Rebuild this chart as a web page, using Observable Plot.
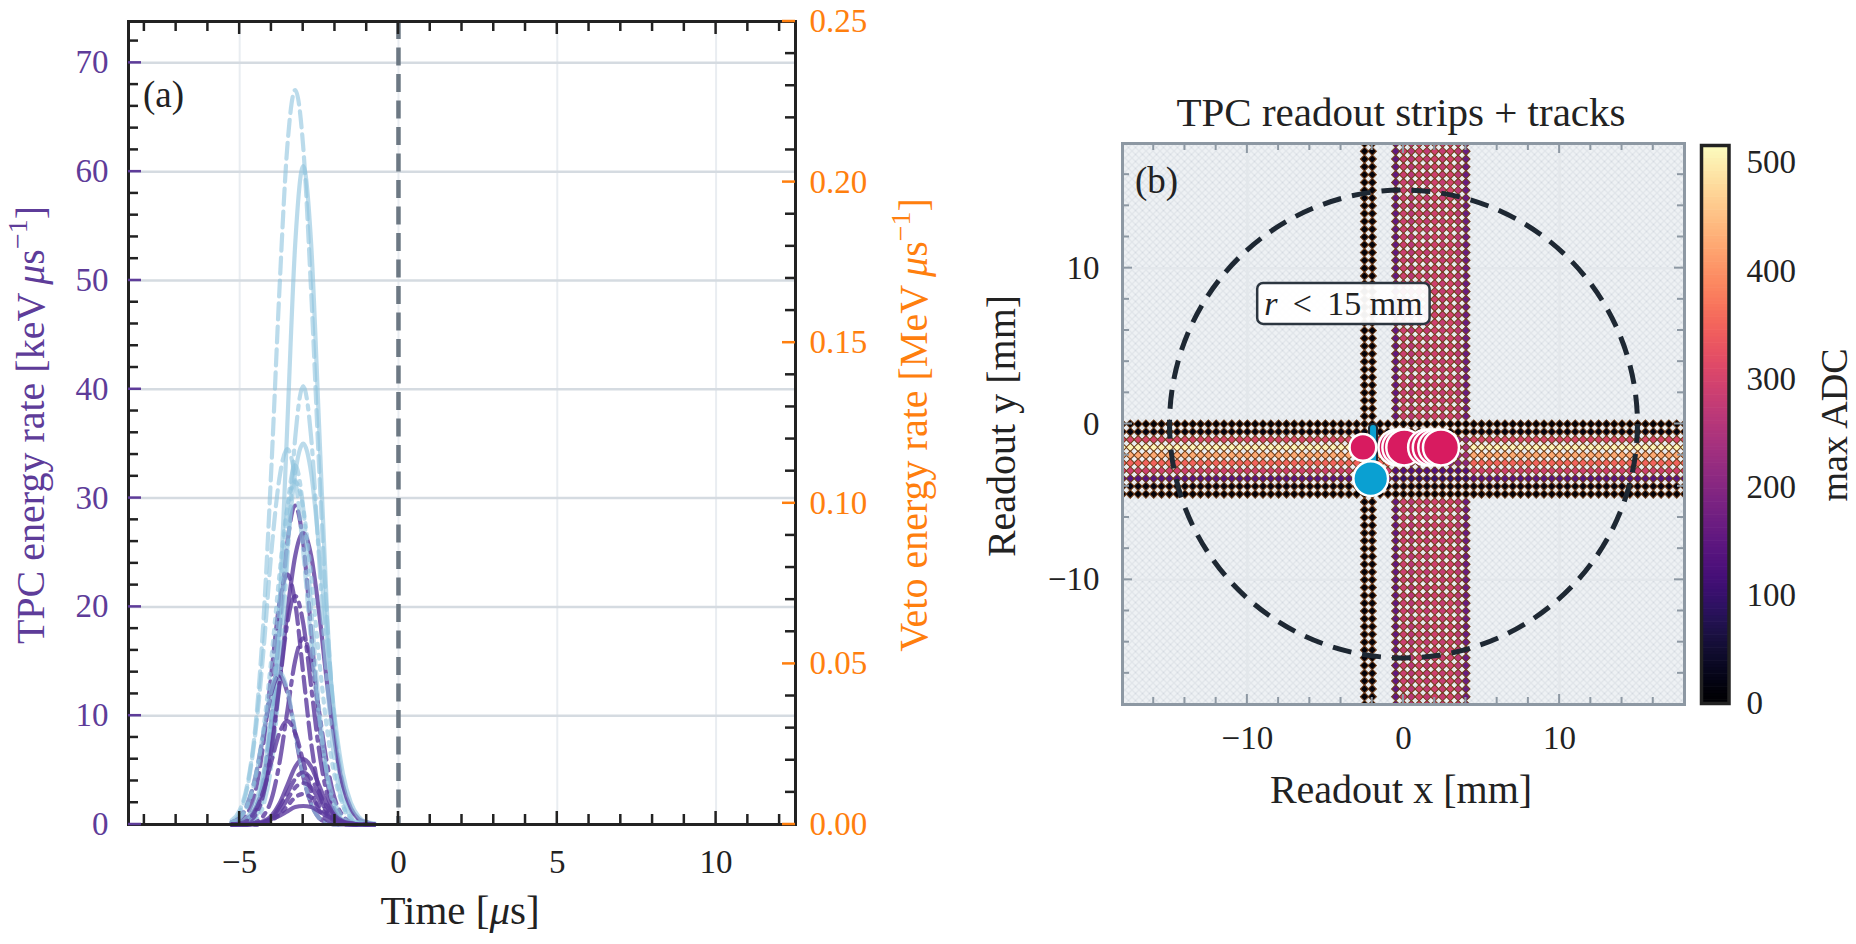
<!DOCTYPE html>
<html><head><meta charset="utf-8">
<script src="https://cdn.jsdelivr.net/npm/d3@7"></script>
<script src="https://cdn.jsdelivr.net/npm/@observablehq/plot@0.6"></script>
<style>
html,body{margin:0;padding:0;background:#fff;}
#fig{position:relative;width:1856px;height:944px;overflow:hidden;}
#fig svg{position:absolute;top:0;}
</style></head><body><div id="fig"></div>
<script>
// ================= Panel (a): pulse shapes =================
const times = [-5.25,-5.0,-4.75,-4.5,-4.25,-4.0,-3.75,-3.5,-3.25,-3.0,-2.75,-2.5,-2.25,-2.0,-1.75,-1.5,-1.25,-1.0,-0.75];
const L1 = [0.4,1.3,3.8,9.1,18.8,32.9,49.0,62.3,67.5,62.3,49.0,32.9,18.8,9.1,3.8,1.3,0.4,0.1,0];
const L2 = [0,0,0.1,0.7,2.7,8.2,19.6,36.7,53.4,60.5,53.4,36.7,19.6,8.2,2.7,0.7,0.1,0,0];
const L3 = [0,0,0.1,0.4,1.8,5.5,13.1,24.4,35.6,40.3,35.6,24.4,13.1,5.5,1.8,0.4,0.1,0,0];
const L4 = [0.1,0.2,0.7,2.0,4.7,9.7,17.0,25.4,32.3,35.0,32.3,25.4,17.0,9.7,4.7,2.0,0.7,0.2,0.1];
const L5 = [0.2,1.0,3.5,8.5,16.0,25.1,31.8,34.5,31.8,25.1,16.8,9.6,4.7,1.9,0.7,0.2,0.1,0,0];
const L6 = [0,0.1,0.4,1.4,4.5,10.7,20.0,29.1,33.0,29.1,20.0,10.7,4.5,1.4,0.4,0.1,0,0,0];
const L7 = [0.2,0.6,1.8,4.3,8.8,15.3,22.9,29.1,31.5,29.1,22.9,15.3,8.8,4.3,1.8,0.6,0.2,0.1,0];
const L8 = [0.2,0.6,1.9,4.5,8.5,12.4,14.0,12.4,8.5,4.5,1.9,0.6,0.2,0,0,0,0,0,0];
const P1 = [0,0.1,0.3,1.3,4.0,9.5,17.8,25.9,29.3,25.9,17.8,9.5,4.0,1.3,0.3,0.1,0,0,0];
const P2 = [0,0.2,0.5,1.5,3.6,7.5,13.0,19.5,24.7,26.8,24.7,19.5,13.0,7.5,3.6,1.5,0.5,0.2,0];
const P3 = [0.1,0.3,1.0,3.1,7.5,13.9,20.3,23.0,20.3,13.9,7.5,3.1,1.0,0.3,0.1,0,0,0,0];
const P4 = [0,0,0,0.2,0.8,2.3,5.6,10.4,15.1,17.1,15.1,10.4,5.6,2.3,0.8,0.2,0,0,0];
const P5 = [0,0,0.2,0.9,2.8,6.8,12.7,18.5,21.0,18.5,12.7,6.8,2.8,0.9,0.2,0,0,0,0];
const P6 = [0.2,0.6,1.9,4.4,8.3,12.1,13.7,12.1,8.3,4.4,1.9,0.6,0.2,0,0,0,0,0,0];
const P7 = [0,0,0,0.1,0.3,0.8,1.9,3.6,5.3,6.0,5.3,3.6,1.9,0.8,0.3,0.1,0,0,0];
const P8 = [0,0,0,0,0.2,0.6,1.6,2.9,4.2,4.8,4.2,2.9,1.6,0.6,0.2,0,0,0,0];
const P9 = [0,0,0,0,0.2,0.5,1.2,2.3,3.4,3.8,3.4,2.3,1.2,0.5,0.2,0,0,0,0];
const P10 = [0,0,0,0,0.1,0.4,0.9,1.7,2.5,2.8,2.5,1.7,0.9,0.4,0.1,0,0,0,0];
const P11 = [0,0,0,0.1,0.2,0.5,0.8,1.2,1.6,1.7,1.6,1.2,0.8,0.5,0.2,0.1,0,0,0];
const P12 = [0,0.1,0.4,1.3,3.1,5.8,8.4,9.5,8.4,5.8,3.1,1.3,0.4,0.1,0,0,0,0,0];

const seriesValues = [L1,P1,L2,P2,L3,P3,L4,P4,L5,P5,L6,P6,L7,P7,L8,P8,P9,P10,P11,P12];
const seriesGroup  = ["lb","pu","lb","pu","lb","pu","lb","pu","lb","pu","lb","pu","lb","pu","lb","pu","pu","pu","pu","pu"];
const seriesDash   = ["dashed","dashed","solid","solid","dashdot","dashed","solid","dashdot","dashed","dashdot","dashdot","dashed","dotted","solid","dashed","dashed","dashdot","dotted","solid","dashed"];

const yMajorA = [0,10,20,30,40,50,60,70];
const xMajorA = [-5,0,5,10];
const vetoMajor = [0,0.05,0.10,0.15,0.20,0.25];

// ================= Panel (b): strips + hits =================
const hStripRows = [0,-0.5,-1,-1.5,-2,-2.5,-3,-3.5,-4,-4.5];
const hStripADC  = [8,18,300,505,425,345,285,140,18,8];
const hCrossADC  = [8,14,210,240,230,200,130,95,20,8];
const vWideCols  = [-0.5,0,0.5,1,1.5,2,2.5,3,3.5,4];
const vWideADC   = [150,285,260,295,270,290,275,295,265,160];
const vNarrowCols = [-2.5,-2.0];
const vNarrowADC  = [10,12];
const pinkHitX = [-2.6,-0.45,-0.2,0.05,1.45,1.75,2.1,2.4];
const pinkHitY = [-1.5,-1.5,-1.5,-1.5,-1.5,-1.5,-1.5,-1.5];
const pinkHitE = [0.55,1,1,1,1,1,1,1];
const blueHitX = [-2.1], blueHitY = [-3.5], blueHitE = [0.93];
const blueTrackX = [-1.95,-1.95], blueTrackY = [-0.25,-3.3];
const fiducialR = 15;
const cbarTicks = [0,100,200,300,400,500];
const adcMax = 516;
const bTicksMajor = [-10,0,10];

// ================= styling =================
const FONT = '"Liberation Serif","DejaVu Serif",serif';
const purple = "#5e3c99", orange = "#ff7f0e", ink = "#222", bGray = "#8d98a3";
const lbColor = "#8ec3de", puColor = "#5b3a9e";
const dashMap = {solid: null, dashed: "16,7", dashdot: "27,7,4,7", dotted: "4,7"};
const fmt = d => d < 0 ? "\u2212" + Math.abs(d) : String(d);

const fig = document.getElementById("fig");

// inward tick marks drawn from a plot's own scales
function drawTicks(plot, side, values, len, stroke, width) {
  const sx = plot.scale("x"), sy = plot.scale("y");
  const L = sx.apply(sx.domain[0]), R = sx.apply(sx.domain[1]);
  const B = sy.apply(sy.domain[0]), T = sy.apply(sy.domain[1]);
  const g = d3.select(plot).append("g").attr("stroke", stroke).attr("stroke-width", width);
  for (const v of values) {
    const l = g.append("line");
    if (side === "left" || side === "right") {
      const y = sy.apply(v);
      const x0 = side === "left" ? L : R, x1 = side === "left" ? L + len : R - len;
      l.attr("x1", x0).attr("x2", x1).attr("y1", y).attr("y2", y);
    } else {
      const x = sx.apply(v);
      const y0 = side === "bottom" ? B : T, y1 = side === "bottom" ? B - len : T + len;
      l.attr("x1", x).attr("x2", x).attr("y1", y0).attr("y2", y1);
    }
  }
}

// ---------- Panel (a) ----------
const xDomA = [-8.5, 12.5], yDomA = [0, 73.8];
const mA = {l:128, r:165, t:21, b:120}, wA = 960, hA = 944;
const vetoK = yDomA[1] / 0.25;
const yMinorA = d3.range(2, 73, 2).filter(v => v % 10 !== 0);
const xMinorA = d3.range(-8, 13, 1).filter(v => v % 5 !== 0);
const vetoMinor = d3.range(1, 25).filter(i => i % 5 !== 0).map(i => i / 100);

const curveMarks = seriesValues.map((vals, i) => Plot.line(
  times.map((t, j) => ({t, v: vals[j]})),
  {x: "t", y: "v", curve: "monotone-x",
   stroke: seriesGroup[i] === "lb" ? lbColor : puColor,
   strokeOpacity: seriesGroup[i] === "lb" ? 0.6 : 0.8,
   strokeWidth: 4.2,
   strokeDasharray: dashMap[seriesDash[i]] ?? undefined}
));

const plotA = Plot.plot({
  width: wA, height: hA,
  marginLeft: mA.l, marginRight: mA.r, marginTop: mA.t, marginBottom: mA.b,
  x: {domain: xDomA, label: null},
  y: {domain: yDomA, label: null},
  style: {fontFamily: FONT, fontSize: "33px", background: "transparent", overflow: "visible"},
  marks: [
    Plot.ruleX(xMajorA, {stroke: "#e9edf1", strokeWidth: 2}),
    Plot.ruleY(yMajorA.filter(v => v > 0), {stroke: "#d5dbe1", strokeWidth: 2.5}),
    ...curveMarks,
    Plot.ruleX([0], {stroke: "#6c7883", strokeWidth: 4.5, strokeDasharray: "18,8.5"}),
    Plot.axisY({ticks: yMajorA, anchor: "left", tickSize: 0, tickPadding: 20, fill: purple, stroke: "none", label: null, tickFormat: fmt}),
    Plot.axisY({ticks: vetoMajor.map(v => v * vetoK), anchor: "right", tickSize: 0, tickPadding: 14, fill: orange, stroke: "none", label: null, tickFormat: d => (d / vetoK).toFixed(2)}),
    Plot.axisX({ticks: xMajorA, anchor: "bottom", tickSize: 0, tickPadding: 25, fill: ink, stroke: "none", label: null, tickFormat: fmt}),
    Plot.frame({stroke: ink, strokeWidth: 3})
  ]
});
plotA.style.left = "0px";
fig.appendChild(plotA);
drawTicks(plotA, "left", yMinorA, 10, ink, 2.5);
drawTicks(plotA, "left", yMajorA, 13, purple, 2.5);
drawTicks(plotA, "right", vetoMinor.map(v => v * vetoK), 10, ink, 2.5);
drawTicks(plotA, "right", vetoMajor.map(v => v * vetoK), 13, orange, 2.5);
drawTicks(plotA, "top", xMinorA, 10, ink, 2.5);
drawTicks(plotA, "top", xMajorA, 13, ink, 2.5);
drawTicks(plotA, "bottom", xMinorA, 10, ink, 2.5);
drawTicks(plotA, "bottom", xMajorA, 13, ink, 2.5);

// ---------- Panel (b) ----------
const domB = [-18, 18];
const mB = {l:162, r:172, t:143, b:240}, wB = 896, hB = 944;
const kxb = (wB - mB.l - mB.r) / (domB[1] - domB[0]);
const kyb = (hB - mB.t - mB.b) / (domB[1] - domB[0]);
const padColsH = d3.range(-18, 18.01, 0.5);
const padRowsV = d3.range(-18, 18.01, 0.5).filter(y => y > 0.01 || y < -4.51);
const wideLo = vWideCols[0] - 0.01, wideHi = vWideCols[vWideCols.length - 1] + 0.01;
const hPads = [];
for (const x of padColsH) hStripRows.forEach((y, i) => hPads.push({x, y, adc: (x >= wideLo && x <= wideHi) ? hCrossADC[i] : hStripADC[i]}));
const vPads = [];
for (const y of padRowsV) {
  vNarrowCols.forEach((x, i) => vPads.push({x, y, adc: vNarrowADC[i]}));
  vWideCols.forEach((x, i) => vPads.push({x, y, adc: vWideADC[i]}));
}
const pinkHits = pinkHitX.map((x, i) => ({x, y: pinkHitY[i], e: pinkHitE[i]}));
const blueHits = blueHitX.map((x, i) => ({x, y: blueHitY[i], e: blueHitE[i]}));
const blueTrack = blueTrackX.map((x, i) => ({x, y: blueTrackY[i]}));
const bMinor = d3.range(-16, 17, 2).filter(v => v % 10 !== 0);
const padOpts = {x: "x", y: "y", fill: "adc", symbol: "square", rotate: 45, r: 3.3, stroke: "#6e3b17", strokeWidth: 1, clip: true};

const plotB = Plot.plot({
  width: wB, height: hB,
  marginLeft: mB.l, marginRight: mB.r, marginTop: mB.t, marginBottom: mB.b,
  x: {domain: domB, label: null},
  y: {domain: domB, label: null},
  color: {type: "linear", scheme: "magma", domain: [0, adcMax]},
  r: {type: "sqrt", domain: [0, 1], range: [0, 18]},
  style: {fontFamily: FONT, fontSize: "33px", background: "transparent", overflow: "visible"},
  marks: [
    Plot.frame({fill: "#eef1f4"}),
    Plot.ruleX(bTicksMajor, {stroke: "#e3e7eb", strokeWidth: 2.5}),
    Plot.ruleY(bTicksMajor, {stroke: "#e3e7eb", strokeWidth: 2.5}),
    Plot.dot(hPads, padOpts),
    Plot.dot(vPads, padOpts),
    Plot.dot([{x: 0, y: 0}], {x: "x", y: "y", r: fiducialR * (kxb + kyb) / 2, fill: "none", stroke: "#1e2833", strokeWidth: 5, strokeDasharray: "19,11"}),
    Plot.line(blueTrack, {x: "x", y: "y", stroke: "#1e2833", strokeWidth: 10, strokeLinecap: "round"}),
    Plot.line(blueTrack, {x: "x", y: "y", stroke: "#0aa0d2", strokeWidth: 6, strokeLinecap: "round"}),
    Plot.dot(pinkHits, {x: "x", y: "y", r: "e", fill: "#d81b60", stroke: "white", strokeWidth: 2.5}),
    Plot.dot(blueHits, {x: "x", y: "y", r: "e", fill: "#0aa0d2", stroke: "white", strokeWidth: 2.5}),
    Plot.text(["r < 15 mm"], {x: () => -3.85, y: () => 7.7, text: d => d, fontSize: 34, fill: ink}),
    Plot.axisX({ticks: bTicksMajor, anchor: "bottom", tickSize: 0, tickPadding: 21, fill: ink, stroke: "none", label: null, tickFormat: fmt}),
    Plot.axisY({ticks: bTicksMajor, anchor: "left", tickSize: 0, tickPadding: 23, fill: ink, stroke: "none", label: null, tickFormat: fmt}),
    Plot.frame({stroke: bGray, strokeWidth: 3})
  ]
});
plotB.style.left = "960px";
fig.appendChild(plotB);
for (const side of ["top", "bottom", "left", "right"]) {
  drawTicks(plotB, side, bMinor, 7, bGray, 2);
  drawTicks(plotB, side, bTicksMajor, 10, bGray, 2);
}

// ---------- Colorbar ----------
const cbarLevels = d3.range(0, adcMax, 3);
const plotC = Plot.plot({
  width: 166, height: 944,
  marginLeft: 11, marginRight: 127.5, marginTop: 145, marginBottom: 241,
  x: {domain: [0, 1], axis: null},
  y: {domain: [0, adcMax], label: null},
  color: {type: "linear", scheme: "magma", domain: [0, adcMax]},
  style: {fontFamily: FONT, fontSize: "33px", background: "transparent", overflow: "visible"},
  marks: [
    Plot.rect(cbarLevels, {x1: 0, x2: 1, y1: d => d, y2: d => Math.min(d + 3.6, adcMax), fill: d => d}),
    Plot.axisY({ticks: cbarTicks, anchor: "right", tickSize: 0, tickPadding: 17.5, fill: ink, stroke: "none", label: null}),
    Plot.frame({stroke: ink, strokeWidth: 3.5})
  ]
});
plotC.style.left = "1690px";
fig.appendChild(plotC);

// ---------- post-processing: hatch background, label box ----------
(function () {
  const svg = d3.select(plotB);
  const defs = svg.insert("defs", ":first-child");
  const pat = defs.append("pattern").attr("id", "hatchB").attr("patternUnits", "userSpaceOnUse").attr("width", 7).attr("height", 7);
  pat.append("rect").attr("width", 7).attr("height", 7).attr("fill", "#eef1f4");
  pat.append("path").attr("d", "M0,0L7,7M7,0L0,7M-1,6L1,8M6,-1L8,1").attr("stroke", "#d2d8df").attr("stroke-width", 0.9);
  const frames = plotB.querySelectorAll('[aria-label="frame"]');
  if (frames.length) {
    const f = frames[0];
    const r = f.tagName.toLowerCase() === "rect" ? f : f.querySelector("rect");
    if (r) r.setAttribute("fill", "url(#hatchB)");
  }
  const tnode = plotB.querySelector('g[aria-label="text"] text');
  if (tnode) {
    tnode.textContent = "";
    const ns = "http://www.w3.org/2000/svg";
    const a = document.createElementNS(ns, "tspan"); a.setAttribute("font-style", "italic"); a.textContent = "r";
    const b = document.createElementNS(ns, "tspan"); b.textContent = "\u2009 < \u200915 mm";
    tnode.appendChild(a); tnode.appendChild(b);
    const bb = tnode.getBBox();
    const rect = document.createElementNS(ns, "rect");
    rect.setAttribute("x", bb.x - 7); rect.setAttribute("y", bb.y - 2);
    rect.setAttribute("width", bb.width + 14); rect.setAttribute("height", bb.height + 4);
    rect.setAttribute("rx", 6); rect.setAttribute("fill", "white"); rect.setAttribute("fill-opacity", 0.95);
    rect.setAttribute("stroke", "#2c3640"); rect.setAttribute("stroke-width", 2.5);
    const tr = tnode.getAttribute("transform");
    if (tr) rect.setAttribute("transform", tr);
    tnode.parentNode.insertBefore(rect, tnode);
  }
})();

// ---------- titles and axis labels ----------
const over = d3.select(fig).append("svg").attr("width", 1856).attr("height", 944).style("left", "0px").style("pointer-events", "none");
function addText({x, y, rotate = 0, anchor = "middle", size, fill = ink, parts}) {
  const g = over.append("g").attr("transform", `translate(${x},${y}) rotate(${rotate})`);
  const t = g.append("text").attr("text-anchor", anchor).attr("font-family", FONT).attr("font-size", size).attr("fill", fill);
  for (const p of parts) {
    if (typeof p === "string") { t.append("tspan").text(p); continue; }
    const ts = t.append("tspan").text(p.t);
    if (p.i) ts.attr("font-style", "italic");
    if (p.sup) ts.attr("font-size", size * 0.7).attr("dy", -size * 0.42);
    if (p.down) ts.attr("dy", size * 0.42);
  }
}
addText({x: 143, y: 107, anchor: "start", size: 37, parts: ["(a)"]});
addText({x: 460, y: 924, size: 41, parts: ["Time [", {t: "\u03bc", i: true}, "s]"]});
addText({x: 44, y: 425, rotate: -90, size: 40, fill: purple, parts: ["TPC energy rate [keV\u2009", {t: "\u03bc", i: true}, "s", {t: "\u22121", sup: true}, {t: "]", down: true}]});
addText({x: 927, y: 425, rotate: -90, size: 40, fill: orange, parts: ["Veto energy rate [MeV\u2009", {t: "\u03bc", i: true}, "s", {t: "\u22121", sup: true}, {t: "]", down: true}]});
addText({x: 1401, y: 126, size: 41, parts: ["TPC readout strips + tracks"]});
addText({x: 1135, y: 193, anchor: "start", size: 37, parts: ["(b)"]});
addText({x: 1401, y: 803, size: 40, parts: ["Readout x [mm]"]});
addText({x: 1015, y: 426, rotate: -90, size: 40, parts: ["Readout y [mm]"]});
addText({x: 1847, y: 425, rotate: -90, size: 38, parts: ["max ADC"]});
</script>
</body></html>
